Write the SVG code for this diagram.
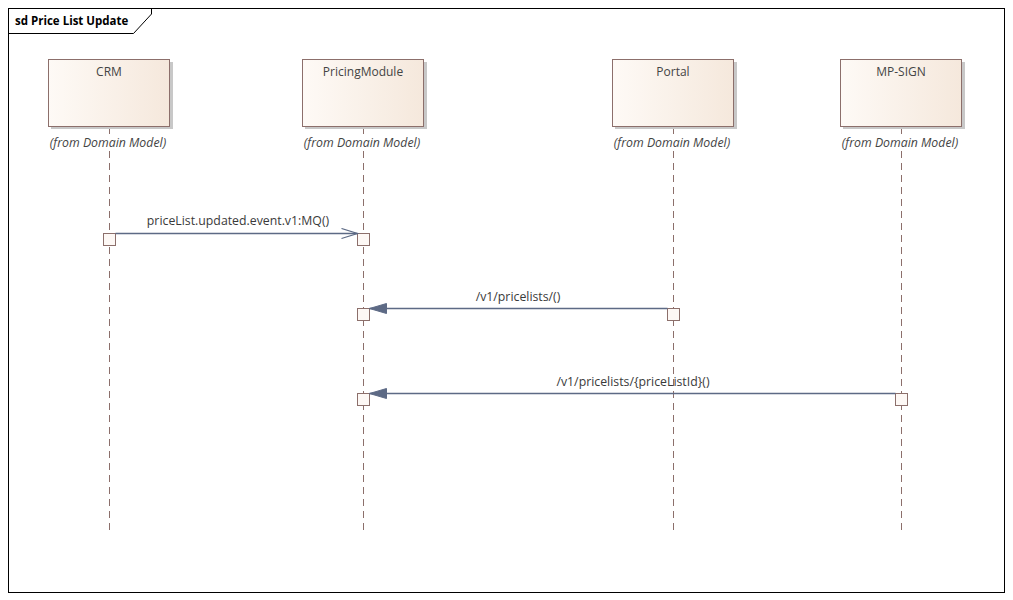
<svg xmlns="http://www.w3.org/2000/svg" width="1013" height="600" viewBox="0 0 1013 600">
<defs>
<linearGradient id="g" x1="0" y1="0" x2="1" y2="0">
<stop offset="0" stop-color="#fefaf6"/><stop offset="1" stop-color="#f5e8dc"/>
</linearGradient>
<marker id="open" markerWidth="20" markerHeight="12" refX="17" refY="6" orient="auto" markerUnits="userSpaceOnUse">
<path d="M1,1 L17,6 L1,11" fill="none" stroke="#5d6a85" stroke-width="1.2"/>
</marker>
<marker id="filled" markerWidth="20" markerHeight="12" refX="17" refY="6" orient="auto" markerUnits="userSpaceOnUse">
<path d="M0,1 L17,6 L0,11 Z" fill="#5d6a85" stroke="#5d6a85"/>
</marker>
</defs>
<style>
text{font-family:"Open Sans","Liberation Sans",sans-serif;font-size:12px;fill:#3a3a3a}
.frame{fill:#fff;stroke:#000;stroke-width:1}
.title{font-weight:bold;font-size:11.5px;fill:#000}
.shadow{fill:#c8c8c8}
.box{fill:url(#g);stroke:#8c6f6b;stroke-width:1}
.name{text-anchor:middle;fill:#444}
.from{text-anchor:middle;font-style:italic;fill:#444;font-size:12.3px}
.life{stroke:#8c6f6b;stroke-width:1;stroke-dasharray:7,5}
.act{fill:#fdf8f5;stroke:#8c6f6b;stroke-width:1}
.msg{stroke:#5d6a85;stroke-width:1.3;fill:none}
.lbl{text-anchor:middle;font-size:12.3px}
</style>
<rect class="frame" x="8.5" y="8.5" width="996" height="584"/>
<path d="M8.5,33.5 H133.5 L151.5,14 V8.5" fill="none" stroke="#000"/>
<text class="title" x="15" y="25">sd Price List Update</text>

<g id="lifeline-crm">
<line class="life" x1="109.5" y1="127" x2="109.5" y2="533"/>
<rect class="shadow" x="51" y="62" width="122" height="67"/>
<rect class="box" x="48.5" y="59.5" width="121" height="67"/>
<text class="name" x="109" y="76">CRM</text>
<rect fill="#fff" x="48" y="134" width="122" height="16"/>
<text class="from" x="108" y="147">(from Domain Model)</text>
</g>
<g id="lifeline-pricingmodule">
<line class="life" x1="363.5" y1="127" x2="363.5" y2="533"/>
<rect class="shadow" x="305" y="62" width="122" height="67"/>
<rect class="box" x="302.5" y="59.5" width="121" height="67"/>
<text class="name" x="363" y="76">PricingModule</text>
<rect fill="#fff" x="302" y="134" width="122" height="16"/>
<text class="from" x="362" y="147">(from Domain Model)</text>
</g>
<g id="lifeline-portal">
<line class="life" x1="673.5" y1="127" x2="673.5" y2="533"/>
<rect class="shadow" x="615" y="62" width="122" height="67"/>
<rect class="box" x="612.5" y="59.5" width="121" height="67"/>
<text class="name" x="673" y="76">Portal</text>
<rect fill="#fff" x="612" y="134" width="122" height="16"/>
<text class="from" x="672" y="147">(from Domain Model)</text>
</g>
<g id="lifeline-mpsign">
<line class="life" x1="901.5" y1="127" x2="901.5" y2="533"/>
<rect class="shadow" x="843" y="62" width="122" height="67"/>
<rect class="box" x="840.5" y="59.5" width="121" height="67"/>
<text class="name" x="901" y="76">MP-SIGN</text>
<rect fill="#fff" x="840" y="134" width="122" height="16"/>
<text class="from" x="900" y="147">(from Domain Model)</text>
</g>

<g id="activations">
<rect class="act" x="103.5" y="233.5" width="12" height="12"/>
<rect class="act" x="357.5" y="233.5" width="12" height="12"/>
<rect class="act" x="357.5" y="308.5" width="12" height="12"/>
<rect class="act" x="667.5" y="308.5" width="12" height="12"/>
<rect class="act" x="357.5" y="393.5" width="12" height="12"/>
<rect class="act" x="895.5" y="393.5" width="12" height="12"/>
</g>

<g id="connectors">
<line class="msg" x1="115.5" y1="233.5" x2="357.5" y2="233.5" marker-end="url(#open)"/>
<text class="lbl" x="238" y="225">priceList.updated.event.v1:MQ()</text>
<line class="msg" x1="667.5" y1="308.5" x2="369.5" y2="308.5" marker-end="url(#filled)"/>
<text class="lbl" x="518" y="301">/v1/pricelists/()</text>
<line class="msg" x1="895.5" y1="393.5" x2="369.5" y2="393.5" marker-end="url(#filled)"/>
<text class="lbl" x="633" y="386">/v1/pricelists/{priceListId}()</text>
</g>
</svg>
